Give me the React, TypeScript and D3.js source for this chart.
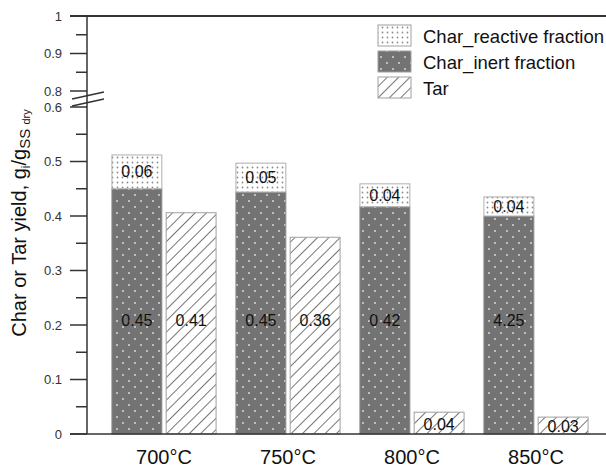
import { useEffect, useRef } from "react";
import * as d3 from "d3";

const categories = ["700°C", "750°C", "800°C", "850°C"];
const charInert = [0.45, 0.444, 0.417, 0.4];
const charReactive = [0.062, 0.053, 0.042, 0.035];
const tar = [0.406, 0.361, 0.04, 0.031];
const inertLabels = ["0.45", "0.45", "0 42", "4.25"];
const reactiveLabels = ["0.06", "0.05", "0.04", "0.04"];
const tarLabels = ["0.41", "0.36", "0.04", "0.03"];
const lowerTicks = [0, 0.1, 0.2, 0.3, 0.4, 0.5, 0.6];
const lowerMinor = [0.05, 0.15, 0.25, 0.35, 0.45, 0.55];
const upperTicks = [0.8, 0.9, 1];
const upperMinor = [0.85, 0.95];
const legendItems = [
  { key: "reactive", label: "Char_reactive fraction" },
  { key: "inert", label: "Char_inert fraction" },
  { key: "tar", label: "Tar" },
];

const W = 606;
const H = 467;
const FONT = "'Liberation Sans', Arial, sans-serif";

export default function App() {
  const svgRef = useRef<SVGSVGElement>(null);

  useEffect(() => {
    if (!svgRef.current) return;
    const svg = d3.select(svgRef.current);
    svg.selectAll("*").remove();
    svg.attr("width", W).attr("height", H);

    const axisX = 87;
    const yLow = d3.scaleLinear().domain([0, 0.6]).range([434, 107]);
    const yHigh = d3.scaleLinear().domain([0.8, 1]).range([91, 16]);

    const x = d3
      .scaleBand()
      .domain(categories)
      .range([102, 598])
      .paddingInner(0.16)
      .paddingOuter(0.08);
    const xSub = d3
      .scaleBand()
      .domain(["char", "tar"])
      .range([0, x.bandwidth()])
      .paddingInner(0.08);

    // Patterns
    const defs = svg.append("defs");
    const pReact = defs
      .append("pattern")
      .attr("id", "p-react")
      .attr("patternUnits", "userSpaceOnUse")
      .attr("width", 5)
      .attr("height", 5);
    pReact.append("rect").attr("width", 5).attr("height", 5).attr("fill", "#fff");
    pReact.append("circle").attr("cx", 2.5).attr("cy", 2.5).attr("r", 0.9).attr("fill", "#8c8c8c");

    const pInert = defs
      .append("pattern")
      .attr("id", "p-inert")
      .attr("patternUnits", "userSpaceOnUse")
      .attr("width", 12)
      .attr("height", 12);
    pInert.append("rect").attr("width", 12).attr("height", 12).attr("fill", "#737373");
    pInert.append("circle").attr("cx", 3).attr("cy", 3).attr("r", 1).attr("fill", "#d8d8d8");
    pInert.append("circle").attr("cx", 9).attr("cy", 9).attr("r", 1).attr("fill", "#d8d8d8");

    const pTar = defs
      .append("pattern")
      .attr("id", "p-tar")
      .attr("patternUnits", "userSpaceOnUse")
      .attr("width", 8)
      .attr("height", 8)
      .attr("patternTransform", "rotate(45)");
    pTar.append("rect").attr("width", 8).attr("height", 8).attr("fill", "#fff");
    pTar.append("line").attr("x1", 0).attr("y1", 0).attr("x2", 0).attr("y2", 8).attr("stroke", "#4a4a4a").attr("stroke-width", 1.5);

    const fills: Record<string, string> = {
      reactive: "url(#p-react)",
      inert: "url(#p-inert)",
      tar: "url(#p-tar)",
    };

    // Bars
    categories.forEach((c, i) => {
      const gx = x(c)!;
      const cx = gx + xSub("char")!;
      const tx = gx + xSub("tar")!;
      const bw = xSub.bandwidth();

      const inertTop = yLow(charInert[i]);
      const totalTop = yLow(charInert[i] + charReactive[i]);

      svg.append("rect")
        .attr("x", cx).attr("y", inertTop)
        .attr("width", bw).attr("height", yLow(0) - inertTop)
        .attr("fill", fills.inert).attr("stroke", "#8a8a8a").attr("stroke-width", 1);
      svg.append("rect")
        .attr("x", cx).attr("y", totalTop)
        .attr("width", bw).attr("height", inertTop - totalTop)
        .attr("fill", fills.reactive).attr("stroke", "#b0b0b0").attr("stroke-width", 1);

      const tarTop = yLow(tar[i]);
      svg.append("rect")
        .attr("x", tx).attr("y", tarTop)
        .attr("width", bw).attr("height", yLow(0) - tarTop)
        .attr("fill", fills.tar).attr("stroke", "#a0a0a0").attr("stroke-width", 1);

      const label = (lx: number, ly: number, t: string) =>
        svg.append("text")
          .attr("x", lx).attr("y", ly)
          .attr("text-anchor", "middle")
          .attr("dominant-baseline", "central")
          .attr("font-family", FONT)
          .attr("font-size", 16)
          .attr("fill", "#111")
          .text(t);

      label(cx + bw / 2, (inertTop + totalTop) / 2, reactiveLabels[i]);
      label(cx + bw / 2, yLow(0.209), inertLabels[i]);
      const tly = tar[i] > 0.1 ? yLow(0.209) : (tarTop + yLow(0)) / 2 + 1;
      label(tx + bw / 2, tly, tarLabels[i]);
    });

    // Axes
    const axisColor = "#333";
    svg.append("line")
      .attr("x1", axisX).attr("x2", axisX)
      .attr("y1", yHigh(1)).attr("y2", yLow(0))
      .attr("stroke", axisColor).attr("stroke-width", 1.5);
    svg.append("line")
      .attr("x1", 70).attr("x2", W)
      .attr("y1", yLow(0)).attr("y2", yLow(0))
      .attr("stroke", axisColor).attr("stroke-width", 1.5);
    svg.append("line")
      .attr("x1", 70).attr("x2", W)
      .attr("y1", yHigh(1)).attr("y2", yHigh(1))
      .attr("stroke", axisColor).attr("stroke-width", 2);

    const drawTicks = (scale: d3.ScaleLinear<number, number>, major: number[], minor: number[]) => {
      major.forEach((t) => {
        svg.append("line")
          .attr("x1", axisX - 17).attr("x2", axisX)
          .attr("y1", scale(t)).attr("y2", scale(t))
          .attr("stroke", axisColor).attr("stroke-width", 1.5);
        svg.append("text")
          .attr("x", 62).attr("y", scale(t))
          .attr("text-anchor", "end")
          .attr("dominant-baseline", "central")
          .attr("font-family", FONT)
          .attr("font-size", 13)
          .attr("fill", "#333")
          .text(d3.format("~g")(t));
      });
      minor.forEach((t) => {
        svg.append("line")
          .attr("x1", axisX - 11).attr("x2", axisX)
          .attr("y1", scale(t)).attr("y2", scale(t))
          .attr("stroke", axisColor).attr("stroke-width", 1.5);
      });
    };
    drawTicks(yLow, lowerTicks, lowerMinor);
    drawTicks(yHigh, upperTicks, upperMinor);

    // Axis break marks
    const by = (yLow(0.6) + yHigh(0.8)) / 2;
    [-3.5, 3.5].forEach((off) => {
      svg.append("line")
        .attr("x1", axisX - 15).attr("y1", by + off + 3.5)
        .attr("x2", axisX + 17).attr("y2", by + off - 3.5)
        .attr("stroke", axisColor).attr("stroke-width", 1.5);
    });

    // Category labels
    categories.forEach((c) => {
      svg.append("text")
        .attr("x", x(c)! + x.bandwidth() / 2)
        .attr("y", 464)
        .attr("text-anchor", "middle")
        .attr("font-family", FONT)
        .attr("font-size", 20)
        .attr("fill", "#111")
        .text(c);
    });

    // Y title
    const title = svg.append("text")
      .attr("transform", `translate(26,${223}) rotate(-90)`)
      .attr("text-anchor", "middle")
      .attr("font-family", FONT)
      .attr("font-size", 20)
      .attr("fill", "#111");
    title.append("tspan").text("Char or Tar yield, g");
    title.append("tspan").attr("font-size", 12).attr("dy", 4).text("i");
    title.append("tspan").attr("dy", -4).text("/g");
    title.append("tspan").attr("font-size", 15).attr("dy", 4).text("SS ");
    title.append("tspan").attr("font-size", 11).text("dry");

    // Legend
    legendItems.forEach((item, i) => {
      const ly = 25 + i * 26;
      svg.append("rect")
        .attr("x", 378).attr("y", ly)
        .attr("width", 33).attr("height", 21)
        .attr("fill", fills[item.key])
        .attr("stroke", "#a0a0a0").attr("stroke-width", 1);
      svg.append("text")
        .attr("x", 423).attr("y", ly + 11)
        .attr("dominant-baseline", "central")
        .attr("font-family", FONT)
        .attr("font-size", 18.5)
        .attr("fill", "#111")
        .text(item.label);
    });
  }, []);

  return (
    <svg
      ref={svgRef}
      style={{ position: "absolute", left: 0, top: 0, background: "#fff" }}
    />
  );
}
